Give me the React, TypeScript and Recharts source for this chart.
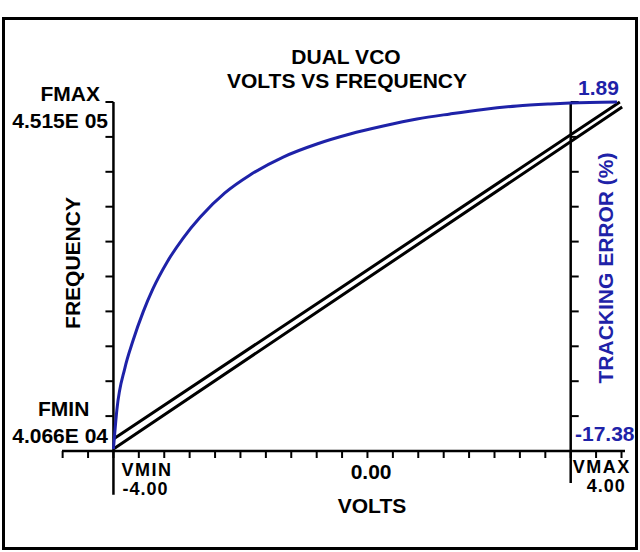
import { ComposedChart, Line, XAxis, YAxis, ReferenceLine } from 'recharts';

const FONT = "'Liberation Sans', Arial, Helvetica, sans-serif";
const BLUE = '#1e22a8';

// axis ranges as printed on the plot
const FMIN = 40660;
const FMAX = 451500;
const ERR_MIN = -17.38;
const ERR_MAX = 1.89;
const VMIN = -4;
const VMAX = 4;

// x tick marks, 18 steps between VMIN and VMAX
const voltTicks = [
  -4.889, -4.444, -4.0, -3.556, -3.111, -2.667, -2.222, -1.778, -1.333, -0.889, -0.444, 0,
  0.444, 0.889, 1.333, 1.778, 2.222, 2.667, 3.111, 3.556, 4.0, 4.444, 4.889,
];
// 10 divisions on both vertical axes
const freqTicks = Array.from({ length: 11 }, (_, i) => FMIN + (i * (FMAX - FMIN)) / 10);
const errTicks = Array.from({ length: 11 }, (_, i) => ERR_MIN + (i * (ERR_MAX - ERR_MIN)) / 10);

// tracking error (%) vs volts
const errVolts = [-4.0, -3.94, -3.8, -3.66, -3.48, -3.31, -3.06, -2.78, -2.48, -2.05, -1.61, -1.03, -0.44, 0.14, 0.72, 1.31, 1.89, 2.47, 3.06, 3.64, 3.99, 4.81];
const errValues = [-17.27, -15.11, -12.8, -11.31, -9.7, -8.43, -6.94, -5.62, -4.46, -3.13, -2.14, -1.15, -0.43, 0.12, 0.56, 0.95, 1.23, 1.48, 1.67, 1.78, 1.83, 1.89];

// the two VCO traces (frequency vs volts)
const vcoAVolts = [-4.0, 0, 4.86];
const vcoAFreq = [54790, 233830, 451500];
const vcoBVolts = [-4.0, 0, 4.9];
const vcoBFreq = [43010, 224000, 445620];

const errData = errVolts.map((v, i) => ({ v, e: errValues[i] }));
const vcoA = vcoAVolts.map((v, i) => ({ v, f: vcoAFreq[i] }));
const vcoB = vcoBVolts.map((v, i) => ({ v, f: vcoBFreq[i] }));

const TICK_V = 0.14; // length of the y tick marks, in volts

const txt = { fontFamily: FONT, fontWeight: 700, fontSize: 21 };
const small = { fontFamily: FONT, fontWeight: 700, fontSize: 18, letterSpacing: 1.5 };
const smallNum = { fontFamily: FONT, fontWeight: 700, fontSize: 18, letterSpacing: 1 };

const near = (a: number, b: number) => Math.abs(a - b) < 0.01;

const VoltTick = (props: any) => {
  const { x, y, payload } = props;
  const v = payload.value;
  if (near(v, VMIN)) {
    return (
      <g fill="#000">
        <text x={x + 8} y={y + 16} style={small}>VMIN</text>
        <text x={x + 9} y={y + 35} style={smallNum}>-4.00</text>
      </g>
    );
  }
  if (near(v, 0)) {
    return (
      <text x={x + 29} y={y + 19} textAnchor="middle" style={txt} fill="#000">0.00</text>
    );
  }
  if (near(v, VMAX)) {
    return (
      <g fill="#000">
        <text x={x + 2} y={y + 13} style={small}>VMAX</text>
        <text x={x + 16} y={y + 32} style={smallNum}>4.00</text>
      </g>
    );
  }
  return <g />;
};

export default function App() {
  return (
    <div style={{ position: 'absolute', left: 0, top: 0, width: 640, height: 552, background: '#fff' }}>
      <ComposedChart
        width={640}
        height={552}
        margin={{ top: 102, right: 15, left: 62, bottom: 61 }}
        style={{ position: 'absolute', left: 0, top: 0 }}
      >
        <XAxis
          dataKey="v"
          type="number"
          domain={[-4.9, 4.95]}
          ticks={voltTicks}
          interval={0}
          height={40}
          tickSize={7}
          axisLine={{ stroke: '#000', strokeWidth: 2.5 }}
          tickLine={{ stroke: '#000', strokeWidth: 2 }}
          tick={<VoltTick />}
        />
        <YAxis yAxisId="freq" type="number" domain={[FMIN, FMAX]} hide />
        <YAxis yAxisId="err" orientation="right" type="number" domain={[ERR_MIN, ERR_MAX]} hide />

        {/* left (frequency) axis */}
        <ReferenceLine
          yAxisId="freq"
          ifOverflow="visible"
          stroke="#000"
          strokeWidth={2.5}
          segment={[{ x: VMIN, y: FMAX }, { x: VMIN, y: FMIN - (FMAX - FMIN) * 0.125 }]}
        />
        {freqTicks.map((t, i) => (
          <ReferenceLine
            key={`ft-${i}`}
            yAxisId="freq"
            ifOverflow="visible"
            stroke="#000"
            strokeWidth={2}
            segment={[{ x: VMIN, y: t }, { x: VMIN - TICK_V, y: t }]}
          />
        ))}

        {/* right (tracking error) axis */}
        <ReferenceLine
          yAxisId="err"
          ifOverflow="visible"
          stroke="#000"
          strokeWidth={2.5}
          segment={[{ x: VMAX, y: ERR_MAX }, { x: VMAX, y: ERR_MIN - (ERR_MAX - ERR_MIN) * 0.092 }]}
        />
        {errTicks.map((t, i) => (
          <ReferenceLine
            key={`et-${i}`}
            yAxisId="err"
            ifOverflow="visible"
            stroke="#000"
            strokeWidth={2}
            segment={[{ x: VMAX, y: t }, { x: VMAX + TICK_V, y: t }]}
          />
        ))}

        <Line data={vcoA} dataKey="f" yAxisId="freq" type="linear" stroke="#000" strokeWidth={3} dot={false} isAnimationActive={false} />
        <Line data={vcoB} dataKey="f" yAxisId="freq" type="linear" stroke="#000" strokeWidth={3} dot={false} isAnimationActive={false} />
        <Line data={errData} dataKey="e" yAxisId="err" type="monotone" stroke={BLUE} strokeWidth={3} dot={false} isAnimationActive={false} />
      </ComposedChart>

      <svg width={640} height={552} style={{ position: 'absolute', left: 0, top: 0, pointerEvents: 'none' }}>
        <rect x={3.5} y={18.5} width={633} height={530} fill="none" stroke="#000" strokeWidth={3} />
        <g style={txt} fill="#000">
          <text x={346} y={64} textAnchor="middle">DUAL VCO</text>
          <text x={347} y={88} textAnchor="middle">VOLTS VS FREQUENCY</text>
          <text x={100} y={101} textAnchor="end">FMAX</text>
          <text x={108} y={128} textAnchor="end">4.515E 05</text>
          <text x={38} y={416}>FMIN</text>
          <text x={108} y={443} textAnchor="end">4.066E 04</text>
          <text x={72} y={263} textAnchor="middle" dominantBaseline="central" transform="rotate(-90 72 263)">FREQUENCY</text>
          <text x={372} y={513} textAnchor="middle">VOLTS</text>
        </g>
        <g style={txt} fill={BLUE}>
          <text x={578} y={95}>1.89</text>
          <text x={575} y={441}>-17.38</text>
          <text x={605} y={268} textAnchor="middle" dominantBaseline="central" transform="rotate(-90 605 268)">TRACKING ERROR (%)</text>
        </g>
      </svg>
    </div>
  );
}
